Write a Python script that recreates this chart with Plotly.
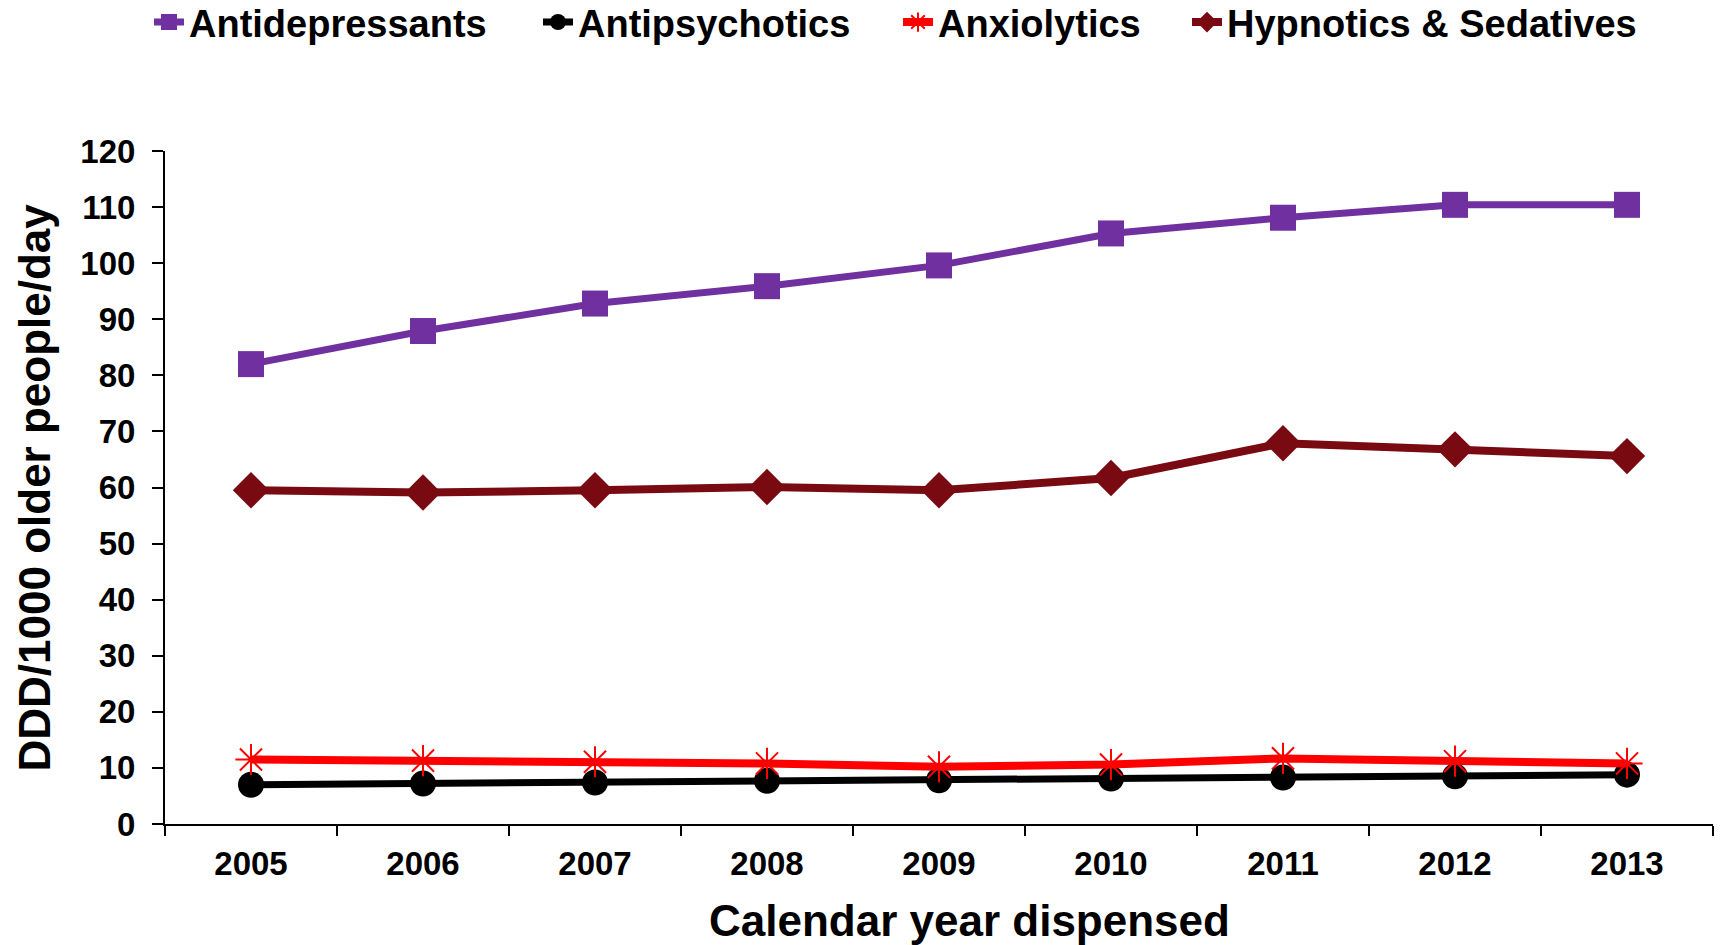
import plotly.graph_objects as go

years = ["2005", "2006", "2007", "2008", "2009", "2010", "2011", "2012", "2013"]
antidepressants = [82.0, 87.9, 92.8, 95.9, 99.6, 105.3, 108.1, 110.4, 110.4]
antipsychotics = [7.0, 7.2, 7.4, 7.7, 7.8, 8.1, 8.3, 8.5, 8.8]
anxiolytics = [11.5, 11.3, 11.1, 10.8, 10.2, 10.6, 11.7, 11.2, 10.8]
hypnotics_sedatives = [59.5, 59.1, 59.5, 60.1, 59.5, 61.7, 67.9, 66.8, 65.6]

FONT = "Liberation Sans"
LEGEND_FONT = dict(family=FONT, size=38, color="black", weight="bold")
RED = "#FF0000"

fig = go.Figure()

fig.add_trace(go.Scatter(
    x=years, y=antidepressants, name="Antidepressants", mode="lines+markers",
    line=dict(color="#7030A0", width=7),
    marker=dict(symbol="square", size=26, color="#7030A0"),
    legend="legend",
))
fig.add_trace(go.Scatter(
    x=years, y=antipsychotics, name="Antipsychotics", mode="lines+markers",
    line=dict(color="#000000", width=7),
    marker=dict(symbol="circle", size=26, color="#000000"),
    legend="legend2",
))
fig.add_trace(go.Scatter(
    x=years, y=anxiolytics, name="Anxiolytics", mode="lines+markers",
    line=dict(color=RED, width=8),
    marker=dict(symbol="asterisk-open", size=26, color=RED,
                line=dict(color=RED, width=2)),
    legend="legend3",
))
fig.add_trace(go.Scatter(
    x=years, y=hypnotics_sedatives, name="Hypnotics & Sedatives", mode="lines+markers",
    line=dict(color="#7A0A12", width=8),
    marker=dict(symbol="diamond", size=28, color="#7A0A12"),
    legend="legend4",
))


def legend_at(x_px):
    # one legend box per series, laid out in a row above the plot area
    return dict(
        xref="container", yref="paper",
        x=x_px / 1721, xanchor="left", y=1.238, yanchor="top",
        font=LEGEND_FONT, bgcolor="rgba(0,0,0,0)",
    )


fig.update_layout(
    width=1721, height=945,
    paper_bgcolor="white", plot_bgcolor="white",
    margin=dict(l=165, r=8, t=151, b=121, autoexpand=False),
    font=dict(family=FONT, color="black"),
    showlegend=True,
    legend=legend_at(149),
    legend2=legend_at(538),
    legend3=legend_at(898),
    legend4=legend_at(1187),
    xaxis=dict(
        type="category", tickson="boundaries", range=[-0.5, 8.5],
        showline=True, linecolor="black", linewidth=2,
        ticks="outside", ticklen=10, tickwidth=2, tickcolor="black",
        showgrid=False, zeroline=False, ticklabelstandoff=9,
        automargin=False, tickangle=0,
        tickfont=dict(family=FONT, size=33, color="black", weight="bold"),
    ),
    yaxis=dict(
        range=[0, 120], dtick=10, tick0=0,
        showline=True, linecolor="black", linewidth=2,
        ticks="outside", ticklen=11, tickwidth=2, tickcolor="black",
        showgrid=False, zeroline=False, ticklabelstandoff=10,
        automargin=False,
        tickfont=dict(family=FONT, size=33, color="black", weight="bold"),
    ),
    annotations=[
        dict(text="Calendar year dispensed", xref="paper", yref="paper",
             x=0.52, y=0, xanchor="center", yanchor="middle", yshift=-96,
             showarrow=False,
             font=dict(family=FONT, size=44, color="black", weight="bold")),
        dict(text="DDD/1000 older people/day", xref="paper", yref="paper",
             x=0, y=0.5, xanchor="center", yanchor="middle", xshift=-131,
             textangle=-90, showarrow=False,
             font=dict(family=FONT, size=44, color="black", weight="bold")),
    ],
)

fig.write_html("out.html")
